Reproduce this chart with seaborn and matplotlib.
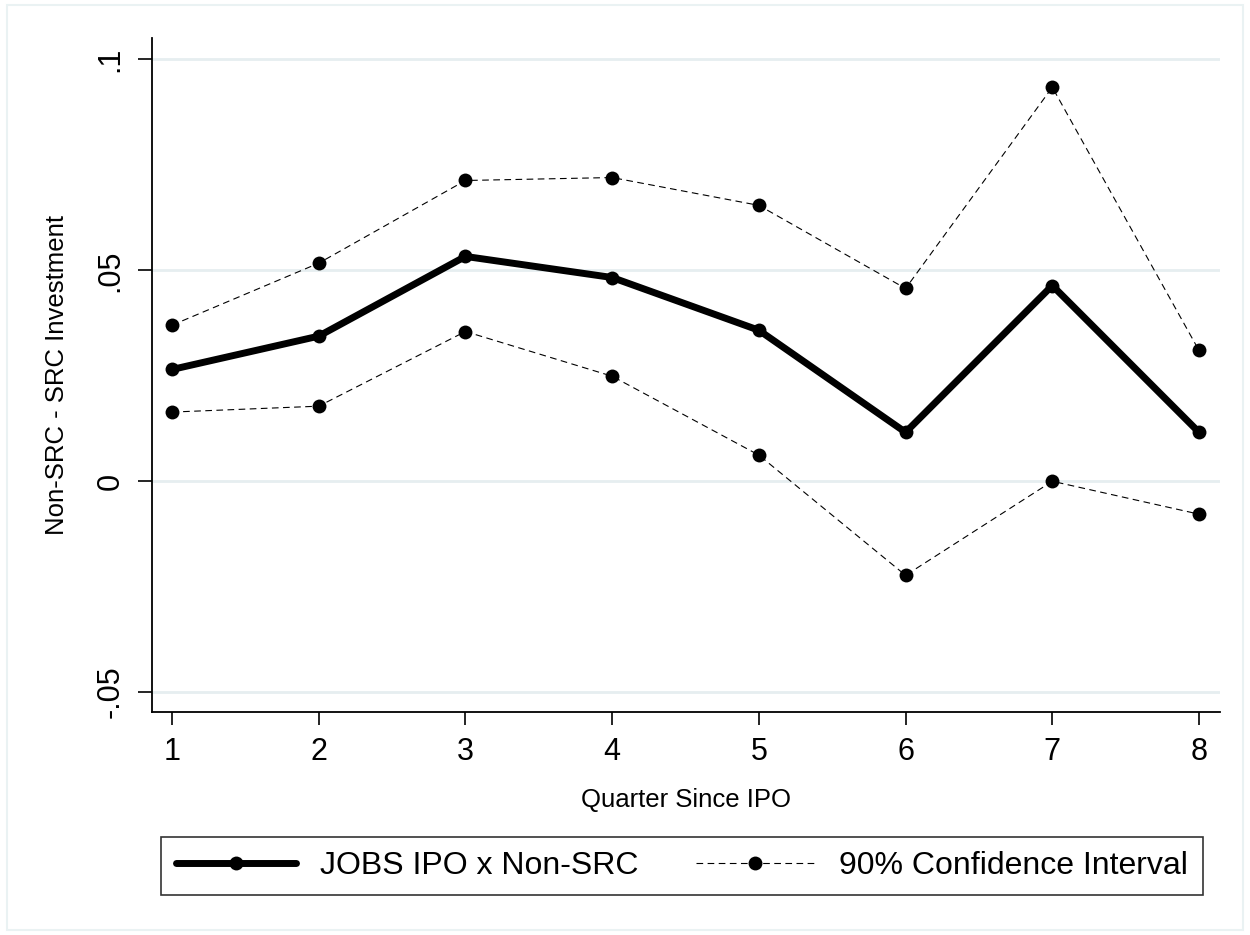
import matplotlib
matplotlib.use("Agg")
import matplotlib.pyplot as plt
import seaborn as sns
import pandas as pd
from matplotlib.patches import Rectangle

quarters = [1, 2, 3, 4, 5, 6, 7, 8]
estimate = [0.0265, 0.0344, 0.0533, 0.0483, 0.0358, 0.0116, 0.0464, 0.0116]
upper_ci = [0.0370, 0.0517, 0.0713, 0.0720, 0.0654, 0.0457, 0.0934, 0.0310]
lower_ci = [0.0164, 0.0178, 0.0355, 0.0249, 0.0062, -0.0223, 0.0000, -0.0078]
y_ticks = [-0.05, 0, 0.05, 0.1]
y_ticklabels = ["-.05", "0", ".05", ".1"]

sns.set_theme(style="white")
plt.rcParams['font.family'] = ['Liberation Sans', 'DejaVu Sans']
plt.rcParams['text.color'] = 'black'
plt.rcParams['axes.labelcolor'] = 'black'
plt.rcParams['xtick.color'] = 'black'
plt.rcParams['ytick.color'] = 'black'

fig = plt.figure(figsize=(12.5, 9.35), dpi=100)
ax = fig.add_axes([0.1216, 0.2385, 0.976 - 0.1216, 0.959 - 0.2385])

# outer light frame
fig.patches.append(Rectangle((7/1250, 1 - 930/935), (1243-7)/1250, (930-5)/935,
                             transform=fig.transFigure, fill=False,
                             edgecolor="#EAF2F3", linewidth=1.5))

for yt in y_ticks:
    ax.axhline(yt, color="#E6EEF0", linewidth=2, zorder=0)

df = pd.DataFrame({"q": quarters, "est": estimate, "up": upper_ci, "lo": lower_ci})
sns.lineplot(data=df, x="q", y="est", ax=ax, color="black", linewidth=5,
             marker="o", markersize=10, markeredgewidth=0, label="JOBS IPO x Non-SRC")
sns.lineplot(data=df, x="q", y="up", ax=ax, color="black", linewidth=0.8,
             linestyle=(0, (6, 4)), marker="o", markersize=10, markeredgewidth=0,
             label="90% Confidence Interval")
sns.lineplot(data=df, x="q", y="lo", ax=ax, color="black", linewidth=0.8,
             linestyle=(0, (6, 4)), marker="o", markersize=10, markeredgewidth=0)

ax.set_xlim(0.8637, 8.143)
ax.set_ylim(-0.0547, 0.105)
ax.set_xticks(quarters)
ax.set_xticklabels([str(q) for q in quarters], fontsize=22)
ax.set_yticks(y_ticks)
ax.set_yticklabels(y_ticklabels, fontsize=22, rotation=90, va="center")
ax.tick_params(axis="x", which="both", direction="out", length=9, width=1.2,
               color="black", bottom=True, pad=9)
ax.tick_params(axis="y", which="both", direction="out", length=10, width=1.2,
               color="black", left=True, pad=9)
for s in ["top", "right"]:
    ax.spines[s].set_visible(False)
for s in ["left", "bottom"]:
    ax.spines[s].set_color("black")
    ax.spines[s].set_linewidth(1.3)

ax.set_xlabel("Quarter Since IPO", fontsize=18.5)
ax.set_ylabel("Non-SRC - SRC Investment", fontsize=18.5)
ax.xaxis.set_label_coords(0.5, -0.113)
ax.yaxis.set_label_coords(-0.0775, 0.5)
ax.get_legend().remove()

handles, labels = ax.get_legend_handles_labels()
leg = fig.legend(handles, labels, loc="center", ncol=2,
                 bbox_to_anchor=((160+1204)/2/1250, 1 - 866/935),
                 fontsize=23, frameon=True, fancybox=False, edgecolor="black",
                 handlelength=3.75, columnspacing=1.8, borderpad=0.45,
                 handletextpad=0.75)
leg.get_frame().set_linewidth(1.2)

fig.savefig("out.png", dpi=100, facecolor="white")
